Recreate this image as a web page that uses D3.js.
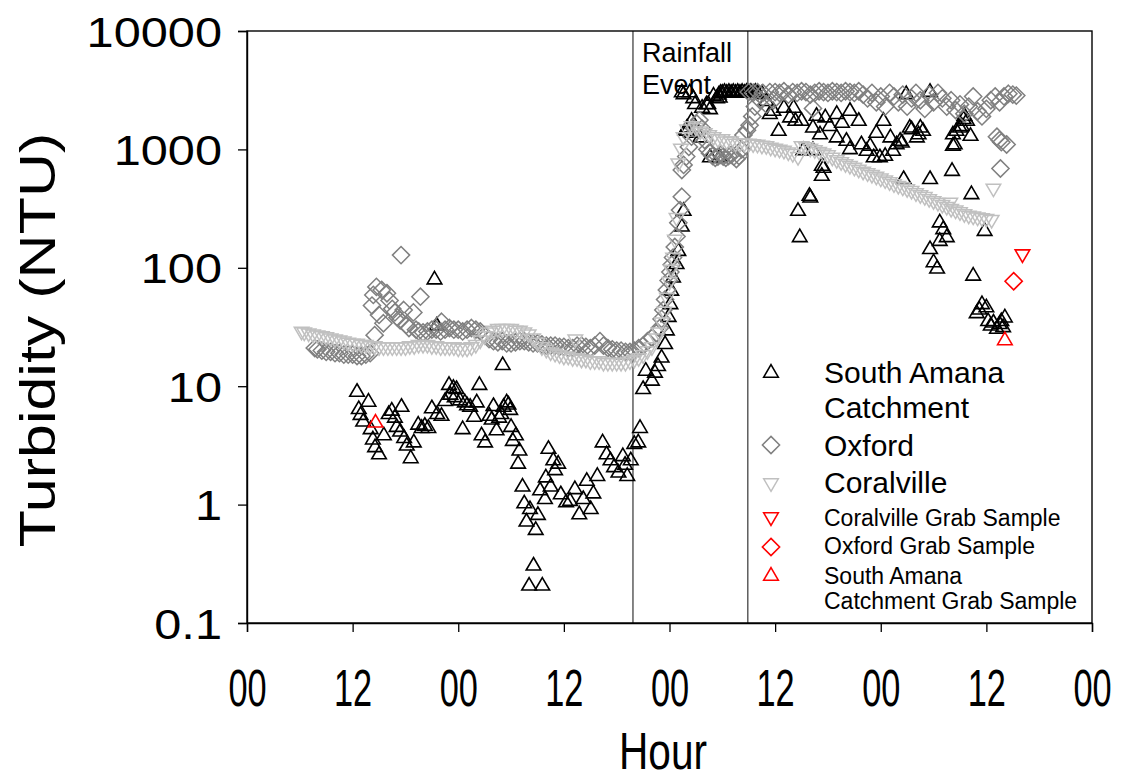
<!DOCTYPE html>
<html>
<head>
<meta charset="utf-8">
<script src="https://cdn.jsdelivr.net/npm/d3@7"></script>
<style>
  html, body { margin: 0; padding: 0; background: #fff; }
  svg { display: block; font-family: "Liberation Sans", Arial, sans-serif; }
</style>
</head>
<body>
<svg id="chart" width="1136" height="781"></svg>
<script>
// Axis ticks (hours since start, turbidity in NTU)
const hourTicks = [0, 12, 24, 36, 48, 60, 72, 84, 96];
const hourTickLabels = ["00", "12", "00", "12", "00", "12", "00", "12", "00"];
const turbidityTicks = [0.1, 1, 10, 100, 1000, 10000];
const turbidityTickLabels = ["0.1", "1", "10", "100", "1000", "10000"];

// Start and end of the rainfall event (hours)
const rainfallEvent = [43.85, 56.9];

// South Amana Catchment sonde readings [hour, NTU]
const southAmana = [
  [12.5,9.1],[12.7,6.5],[12.9,5.8],[13.2,5.1],[13.8,7.5],[14.05,4.4],[14.3,3.6],[14.55,3.1],[15.0,2.7],
  [15.55,3.9],[16.1,5.9],[16.45,6.3],[16.8,5.5],[17.0,4.6],[17.4,4.2],[17.55,6.8],[17.85,3.7],[18.15,3.2],
  [18.6,2.5],[18.95,3.4],[19.45,4.8],[19.85,4.5],[20.2,4.7],[20.6,4.5],[21.0,6.6],[21.3,81],[21.55,33],
  [21.6,5.9],[22.1,5.7],[22.5,7.6],[22.95,10.4],[23.1,8.6],[23.45,9.8],[23.6,8.2],[23.8,9.6],[24.2,7.7],
  [24.5,4.4],[24.75,7.4],[25.0,7.0],[25.35,6.8],[25.8,5.6],[26.1,7.4],[26.4,10.4],[26.65,3.9],[27.05,3.4],
  [27.55,5.7],[27.8,5.3],[28.0,6.9],[28.35,4.3],[28.65,5.5],[28.9,5.9],[29.05,15.3],[29.15,6.8],[29.5,7.4],
  [29.7,7.1],[29.9,6.4],[30.0,4.6],[30.2,3.5],[30.55,3.9],[30.8,2.25],[30.95,2.9],[31.3,1.44],[31.5,1.04],
  [31.75,0.73],[32.05,0.21],[32.15,0.93],[32.55,0.31],[32.8,0.62],[33.05,0.83],[33.3,1.34],[33.55,0.21],
  [33.85,1.13],[33.95,1.72],[34.25,3.0],[34.5,1.44],[34.8,2.4],[35.0,1.98],[35.35,2.25],[35.65,1.24],
  [36.25,1.06],[36.7,1.09],[37.25,1.37],[37.75,0.84],[38.2,1.13],[38.6,1.61],[39.05,0.93],[39.35,1.26],
  [39.8,1.77],[40.4,3.4],[40.85,2.7],[41.3,2.4],[41.7,2.1],[42.2,1.89],[42.7,2.6],[42.95,2.2],[43.2,1.77],
  [43.6,2.4],[44.0,3.3],[44.45,3.4],[44.65,4.5],[45.0,9.6],[45.3,13.7],[46.0,11.3],[46.35,13.2],[46.7,15],
  [47.1,17.7],[47.5,23],[47.7,30],[47.9,39],[48.1,50],[48.2,65],[48.4,84],[48.8,109],[49.0,141],[49.4,226],
  [49.6,307],[49.4,3080],[49.6,2970],[49.8,1455],[50.0,1455],[50.0,1550],[50.3,3080],[50.5,1400],[50.5,1770],
  [50.7,2750],[50.9,2450],[51.5,1280],[51.7,2280],[52.2,2440],[52.4,2450],[52.6,2220],[52.6,870],[53.0,2880],
  [53.4,2750],[53.6,2950],[53.7,2780],[53.7,870],[53.8,3050],[54.0,3050],[54.25,3100],[54.5,3050],[54.75,3100],
  [55.0,3050],[55.25,3100],[55.5,3050],[55.75,3100],[56.0,3050],[56.25,3100],[56.5,3050],[56.75,3100],
  [57.0,3050],[57.25,3100],[57.5,3050],[57.75,3100],[58.0,3050],[58.5,3000],[59.0,2600],[59.4,2020],
  [59.8,2150],[60.4,1455],[61.0,2280],[61.7,1890],[62.1,2280],[62.3,1770],[62.6,307],[62.8,184],[63.0,1770],
  [63.2,1000],[63.9,411],[64.0,398],[64.3,1550],[64.3,1000],[64.7,1950],[65.1,1360],[65.3,737],[65.3,607],
  [65.5,710],[65.7,1890],[66.2,1600],[67.0,2020],[67.0,1280],[67.6,1700],[68.1,1200],[68.5,1020],[68.5,2150],
  [69.5,1770],[69.8,1120],[70.4,986],[70.8,1087],[71.2,870],[71.5,1400],[71.9,870],[72.3,1770],[72.5,895],
  [73.1,1280],[73.4,986],[73.8,1120],[74.2,1200],[74.4,1160],[74.6,570],[74.9,2970],[75.3,1550],[75.5,1500],
  [76.1,1280],[76.3,1360],[76.5,1550],[76.8,1455],[77.6,570],[77.6,3100],[77.6,146],[78.0,113],[78.4,100],
  [78.7,171],[78.7,245],[79.1,215],[79.5,184],[80.1,668],[80.2,1360],[80.2,1090],[80.4,1120],[80.6,1455],
  [81.0,1550],[81.2,1600],[81.4,1830],[81.5,1950],[81.8,1770],[82.2,1320],[82.3,425],[82.5,87],[82.9,42],
  [83.2,45],[83.5,50],[83.8,208],[84.0,47],[84.2,36],[84.5,33],[84.8,35],[85.2,31],[85.5,34],[85.7,36],
  [85.9,32],[86.1,38.6]
];

// Oxford sonde readings [hour, NTU]
const oxford = [
  [7.7,21],[8.0,20.5],[8.5,20],[9.0,19.5],[9.5,19.5],[10.0,19],[10.5,19],[11.0,18.5],[11.5,18.5],[12.0,18.5],
  [12.5,18],[13.0,18],[13.5,18.5],[14.0,19],[14.2,48],[14.35,59],[14.5,27],[14.7,69],[15.0,40],[15.3,65],
  [15.5,34],[15.9,61],[16.2,53],[16.5,45],[16.8,42],[17.1,38],[17.4,36],[17.5,128],[17.8,44],[18.1,33],
  [18.4,31],[18.9,42],[19.2,30],[19.5,29],[19.7,57],[20.0,28.5],[20.5,29],[21.0,30],[21.5,30],[22.0,29],
  [22.1,35],[22.5,30],[23.0,31],[23.5,30],[24.0,30],[24.5,29],[25.0,30],[25.5,31],[26.0,30],[26.5,29],
  [27.0,27],[27.5,25],[28.0,24],[28.5,23.5],[29.0,24],[29.5,23],[30.0,23],[30.5,23.5],[31.0,24],[31.5,24],
  [32.0,23.5],[32.5,23],[33.0,23],[33.5,22.5],[34.0,22],[34.5,22],[35.0,22],[35.5,21.5],[36.0,21.5],
  [36.5,21],[37.0,21],[37.5,22],[38.0,22],[38.5,21.5],[39.0,21],[39.5,22],[40.1,24],[40.5,22],[41.0,21],
  [41.5,20.5],[42.0,20],[42.5,20],[43.0,19.5],[43.5,19.5],[44.0,20],[44.5,21],[45.0,22],[45.5,24],[46.0,25.5],
  [46.5,28],[46.9,31],[47.1,37],[47.3,44],[47.5,54],[47.7,65],[47.9,78],[48.1,92],[48.25,106],[48.4,122],
  [48.6,150],[48.8,184],[49.0,240],[49.2,307],[49.4,398],[49.4,670],[49.6,740],[49.9,870],[50.2,1050],
  [50.5,1280],[50.8,1500],[51.1,1650],[51.4,1770],[51.7,1500],[52.0,1200],[52.3,1000],[52.6,930],[52.9,880],
  [53.2,850],[53.5,870],[53.8,900],[54.1,870],[54.4,850],[54.7,880],[55.0,900],[55.3,870],[55.6,830],
  [55.9,880],[56.2,1000],[56.4,1320],[56.8,1450],[57.0,3050],[57.1,1600],[57.4,1900],[57.5,3000],[57.7,2300],
  [58.0,3050],[58.3,2600],[58.6,3000],[59.0,2400],[59.4,3050],[59.8,2600],[60.0,3050],[60.5,3000],[61.0,3100],
  [61.5,2900],[62.0,3050],[62.5,3000],[63.0,3100],[63.5,3050],[64.0,2900],[64.3,2220],[64.5,3000],[65.0,3100],
  [65.5,3050],[66.0,3000],[66.5,3100],[67.0,3050],[67.5,3000],[68.0,3100],[68.5,3050],[69.0,3000],[69.5,3100],
  [70.0,2900],[70.5,2700],[71.0,3000],[71.5,2500],[72.0,2800],[72.5,2300],[73.0,3000],[73.5,2800],[74.0,2500],
  [74.5,2900],[75.0,2300],[75.5,2700],[76.0,3000],[76.5,2600],[77.0,2200],[77.5,2900],[78.0,2500],[78.5,3000],
  [79.0,2700],[79.5,2300],[80.0,2600],[80.5,2150],[81.0,2400],[81.5,2000],[82.0,2300],[82.5,2800],[83.0,2100],
  [83.5,1900],[84.0,2200],[84.5,2600],[85.0,2800],[85.2,1280],[85.5,2500],[85.5,1200],[85.6,690],[85.7,1150],
  [86.0,2800],[86.3,1100],[86.5,2950],[87.0,2900],[87.4,2850]
];

// Coralville sonde readings [hour, NTU]
const coralville = [
  [6.2,28.5],[6.5,28],[7.0,27.5],[7.5,27],[8.0,26.5],[8.5,26],[9.0,25.5],[9.5,25],[10.0,24.5],[10.5,24],
  [11.0,23.5],[11.5,23],[12.0,22.5],[12.5,22.5],[13.0,22],[13.5,22],[14.0,21.5],[14.5,21.5],[15.0,21],
  [15.5,21],[16.0,21],[16.5,21],[17.0,21],[17.5,21],[18.0,21],[18.5,21.5],[19.0,21.5],[19.5,22],[20.0,22],
  [20.5,22],[21.0,21.5],[21.5,21.5],[22.0,21],[22.5,21],[23.0,21],[23.5,21],[24.0,20.5],[24.5,20.5],
  [25.0,20.5],[25.5,21],[26.0,22],[26.5,24],[27.0,26],[27.5,28],[28.0,29],[28.5,30],[29.0,30],[29.5,30],
  [30.0,30],[30.5,29],[31.0,29],[31.5,28],[32.0,27],[32.5,25],[33.0,23],[33.5,21],[34.0,20],[34.5,19],
  [35.0,18.5],[35.5,18],[36.0,17.5],[36.5,17.5],[37.0,17],[37.3,24.5],[37.5,17],[38.0,16.5],[38.5,16.5],
  [39.0,16],[39.5,16],[40.0,16],[40.5,15.5],[41.0,15.5],[41.5,15.5],[42.0,15.5],[42.5,15.5],[43.0,15.5],
  [43.5,16],[44.0,16.5],[44.5,17],[45.0,18],[45.5,19.5],[46.0,21],[46.5,25],[46.8,28],[47.1,34],[47.4,42],
  [47.7,55],[48.0,75],[48.2,95],[48.4,120],[48.6,170],[48.8,260],[49.0,750],[49.3,1000],[49.6,1250],
  [50.0,1450],[50.5,1550],[51.0,1500],[51.5,1400],[52.0,1350],[52.5,1300],[53.0,1250],[53.5,1200],[54.0,1200],
  [54.5,1150],[55.0,1150],[55.5,1100],[56.0,1100],[56.5,1100],[57.0,1100],[57.5,1090],[58.0,1080],[58.5,1060],
  [59.0,1050],[59.5,1020],[60.0,1000],[60.5,980],[61.0,960],[61.5,930],[62.0,900],[62.6,850],[63.0,1050],
  [63.5,1030],[64.0,1000],[64.5,970],[65.0,940],[65.5,910],[66.0,880],[66.5,840],[67.0,800],[67.5,770],
  [68.0,740],[68.5,715],[69.0,690],[69.5,665],[70.0,640],[70.5,620],[71.0,600],[71.5,580],[72.0,560],
  [72.5,540],[73.0,520],[73.5,500],[74.0,485],[74.5,470],[75.0,455],[75.5,440],[76.0,420],[76.5,405],
  [77.0,390],[77.5,375],[78.0,360],[78.5,348],[79.0,335],[79.9,350],[79.5,322],[80.0,310],[80.5,300],
  [81.0,290],[81.5,280],[82.0,272],[82.5,267],[83.0,262],[83.5,258],[84.0,255],[84.6,250],[84.8,460]
];

// Grab samples [hour, NTU]
const coralvilleGrab = [[88.1, 128]];
const oxfordGrab = [[87.1, 77]];
const southAmanaGrab = [[14.6, 5.0], [86.1, 24.8]];

// ---- layout ----
const svg = d3.select("#chart");
const plot = { left: 247, top: 31, right: 1092, bottom: 623 };

const x = d3.scaleLinear().domain([0, 96]).range([plot.left, plot.right]);
const y = d3.scaleLog().domain([0.1, 10000]).range([plot.bottom, plot.top]);

// marker outlines centred on the data point
const shapes = {
  up: "M0,-7.3L7.3,5.2L-7.3,5.2Z",
  down: "M0,7.3L7.3,-5.2L-7.3,-5.2Z",
  diamond: "M0,-8.6L8.6,0L0,8.6L-8.6,0Z"
};

// rainfall event boundaries
svg.append("g").selectAll("line").data(rainfallEvent).join("line")
  .attr("x1", d => x(d)).attr("x2", d => x(d))
  .attr("y1", plot.top).attr("y2", plot.bottom)
  .attr("stroke", "#222").attr("stroke-width", 1.1);

svg.append("text")
  .attr("x", x(rainfallEvent[0]) + 9).attr("y", 62)
  .attr("font-size", 27).attr("fill", "#000")
  .text("Rainfall");
svg.append("text")
  .attr("x", x(rainfallEvent[0]) + 9).attr("y", 94)
  .attr("font-size", 27).attr("fill", "#000")
  .text("Event");

function drawSeries(data, shape, color, width) {
  svg.append("g").selectAll("path").data(data).join("path")
    .attr("d", shapes[shape])
    .attr("transform", d => `translate(${x(d[0])},${y(d[1])})`)
    .attr("fill", "none")
    .attr("stroke", color)
    .attr("stroke-width", width);
}

drawSeries(southAmana, "up", "#000", 1.6);
drawSeries(oxford, "diamond", "#808080", 1.5);
drawSeries(coralville, "down", "#c0c0c0", 1.5);
drawSeries(coralvilleGrab, "down", "#ff0000", 1.6);
drawSeries(oxfordGrab, "diamond", "#ff0000", 1.6);
drawSeries(southAmanaGrab, "up", "#ff0000", 1.6);

// frame
svg.append("rect")
  .attr("x", plot.left).attr("y", plot.top)
  .attr("width", plot.right - plot.left).attr("height", plot.bottom - plot.top)
  .attr("fill", "none").attr("stroke", "#000").attr("stroke-width", 1.4);

// axes
const xAxis = d3.axisBottom(x).tickValues(hourTicks).tickSize(9).tickFormat("");
const gx = svg.append("g").attr("transform", `translate(0,${plot.bottom})`).call(xAxis);
gx.select(".domain").attr("stroke-width", 1.4);
gx.selectAll(".tick line").attr("stroke-width", 1.3);
gx.selectAll(".tick").append("text")
  .attr("transform", "translate(0,83) scale(0.66,1)")
  .attr("text-anchor", "middle")
  .attr("font-size", 52).attr("fill", "#000")
  .text((d, i) => hourTickLabels[i]);

const yAxis = d3.axisLeft(y).tickValues(turbidityTicks).tickSize(9).tickFormat("");
const gy = svg.append("g").attr("transform", `translate(${plot.left},0)`).call(yAxis);
gy.select(".domain").attr("stroke-width", 1.4);
gy.selectAll(".tick line").attr("stroke-width", 1.3);
gy.selectAll(".tick").append("text")
  .attr("transform", "translate(-25,0) scale(1.16,1)")
  .attr("dy", "0.36em")
  .attr("text-anchor", "end")
  .attr("font-size", 42).attr("fill", "#000")
  .text((d, i) => turbidityTickLabels[i]);

// axis titles
svg.append("text")
  .attr("transform", "translate(663,769) scale(0.78,1)")
  .attr("text-anchor", "middle").attr("font-size", 52).attr("fill", "#000")
  .text("Hour");
svg.append("text")
  .attr("transform", "translate(55,340) rotate(-90) scale(1.22,1)")
  .attr("text-anchor", "middle").attr("font-size", 50).attr("fill", "#000")
  .text("Turbidity (NTU)");

// legend
const legendRows = [
  { shape: "up", color: "#000", sw: 1.6, cy: 372, lines: ["South Amana", "Catchment"], size: 30, base: [383, 418] },
  { shape: "diamond", color: "#808080", sw: 1.5, cy: 445, lines: ["Oxford"], size: 30, base: [456] },
  { shape: "down", color: "#c0c0c0", sw: 1.5, cy: 484, lines: ["Coralville"], size: 30, base: [493] },
  { shape: "down", color: "#ff0000", sw: 1.6, cy: 518, lines: ["Coralville Grab Sample"], size: 23, base: [526] },
  { shape: "diamond", color: "#ff0000", sw: 1.6, cy: 547, lines: ["Oxford Grab Sample"], size: 23, base: [554] },
  { shape: "up", color: "#ff0000", sw: 1.6, cy: 575, lines: ["South Amana", "Catchment Grab Sample"], size: 23, base: [584, 609] }
];
const legend = svg.append("g");
legendRows.forEach(r => {
  legend.append("path")
    .attr("d", shapes[r.shape])
    .attr("transform", `translate(771,${r.cy})`)
    .attr("fill", "none").attr("stroke", r.color).attr("stroke-width", r.sw);
  r.lines.forEach((t, i) => {
    legend.append("text")
      .attr("x", 824).attr("y", r.base[i])
      .attr("font-size", r.size).attr("fill", "#000")
      .text(t);
  });
});
</script>
</body>
</html>
